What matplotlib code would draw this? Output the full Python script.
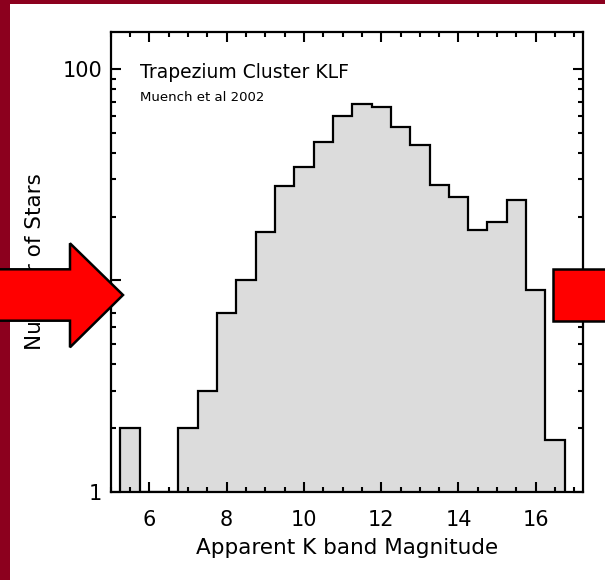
import matplotlib
matplotlib.use('Agg')
import matplotlib.pyplot as plt
import numpy as np
from matplotlib.patches import Polygon, Rectangle
from matplotlib.ticker import FixedLocator, NullFormatter

W, H = 605, 580
DPI = 100

# K band luminosity function, 0.5 mag bins
mag_centers = [5.5, 6.0, 6.5, 7.0, 7.5, 8.0, 8.5, 9.0, 9.5, 10.0, 10.5, 11.0,
               11.5, 12.0, 12.5, 13.0, 13.5, 14.0, 14.5, 15.0, 15.5, 16.0, 16.5]
star_counts = [2, 0, 0, 2, 3, 7, 10, 17, 28, 34.2, 45, 60,
               68, 66, 53, 43.7, 28.2, 24.7, 17.3, 18.8, 24, 9, 1.75]
bin_width = 0.5

x_ticks = [6, 8, 10, 12, 14, 16]
y_ticks = [1, 10, 100]
y_tick_labels = ['1', '10', '100']

title = 'Trapezium Cluster KLF'
subtitle = 'Muench et al 2002'
x_label = 'Apparent K band Magnitude'
y_label = 'Number of Stars'

MAROON = '#8c001e'
GRAY = '#dcdcdc'
RED = '#ff0000'


def px(x, y):
    # pixel position (origin top-left) -> figure fraction
    return (x / W, 1.0 - y / H)


fig = plt.figure(figsize=(W / DPI, H / DPI), dpi=DPI, facecolor='white')

# slide frame
fig.add_artist(Rectangle(px(0, H), 10 / W, 1.0, transform=fig.transFigure,
                         facecolor=MAROON, edgecolor='none', zorder=-5))
fig.add_artist(Rectangle(px(0, 4), 1.0, 4 / H, transform=fig.transFigure,
                         facecolor=MAROON, edgecolor='none', zorder=-5))

ax = fig.add_axes([110.7 / W, 1 - 491.7 / H, (583.3 - 110.7) / W, (491.7 - 31.7) / H])

centers = np.array(mag_centers)
counts = np.array(star_counts, dtype=float)
edges = np.append(centers - bin_width / 2, centers[-1] + bin_width / 2)
heights = np.maximum(counts, 1)  # empty bins sit on the baseline

ax.stairs(heights, edges, baseline=1, fill=True, color=GRAY, zorder=1)
ax.stairs(heights, edges, baseline=1, color='black', linewidth=1.6, zorder=2)

ax.set_yscale('log')
ax.set_xlim(5.0, 17.23)
ax.set_ylim(1, 150)

ax.xaxis.set_major_locator(FixedLocator(x_ticks))
ax.xaxis.set_minor_locator(FixedLocator(np.arange(5.0, 17.3, 0.5)))
ax.yaxis.set_major_locator(FixedLocator(y_ticks))
minor_y = [m * d for d in (1, 10) for m in range(2, 10)]
ax.yaxis.set_minor_locator(FixedLocator(minor_y))
ax.yaxis.set_minor_formatter(NullFormatter())
ax.set_yticklabels(y_tick_labels)

ax.tick_params(which='both', direction='in', top=True, right=True, width=1.5,
               labelsize=15)
ax.tick_params(which='major', length=7)
ax.tick_params(which='minor', length=3.8)
ax.tick_params(axis='x', pad=13)
ax.tick_params(axis='y', pad=6)
for s in ax.spines.values():
    s.set_linewidth(1.6)

ax.set_xlabel(x_label, fontsize=15.5)
ax.set_ylabel(y_label, fontsize=15.5)
ax.xaxis.set_label_coords(0.5, -0.1)
ax.yaxis.set_label_coords(-0.139, 0.5)

ax.text(0.062, 0.912, title, transform=ax.transAxes, fontsize=13.5,
        ha='left', va='center')
ax.text(0.062, 0.858, subtitle, transform=ax.transAxes, fontsize=9.5,
        ha='left', va='center')

# red arrows on top of the plot
left_arrow = [(-10, 269.3), (70, 269.3), (70, 243.3), (123, 295), (70, 347.3),
              (70, 320.7), (-10, 320.7)]
fig.add_artist(Polygon([px(x, y) for x, y in left_arrow], closed=True,
                       transform=fig.transFigure, facecolor=RED,
                       edgecolor='black', linewidth=1.8, joinstyle='miter',
                       zorder=10))
right_box = [(553.3, 269), (620, 269), (620, 321), (553.3, 321)]
fig.add_artist(Polygon([px(x, y) for x, y in right_box], closed=True,
                       transform=fig.transFigure, facecolor=RED,
                       edgecolor='black', linewidth=1.8, joinstyle='miter',
                       zorder=10))

fig.savefig('out.png', dpi=DPI, facecolor=fig.get_facecolor())
